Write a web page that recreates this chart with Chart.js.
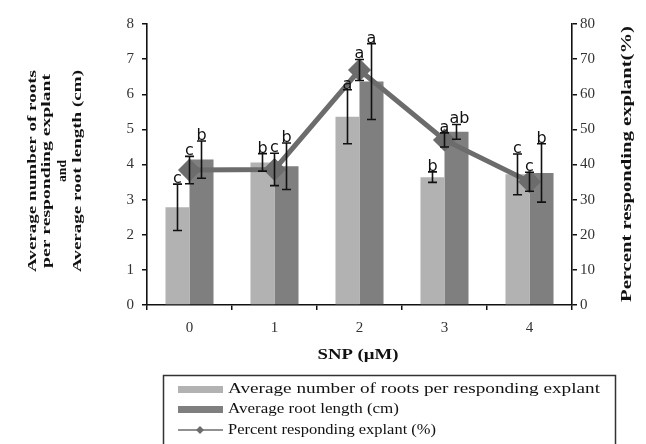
<!DOCTYPE html>
<html>
<head>
<meta charset="utf-8">
<script src="https://cdn.jsdelivr.net/npm/chart.js@4.4.1/dist/chart.umd.min.js"></script>
<style>
html,body{margin:0;padding:0;background:#fff;}
#wrap{width:646px;height:444px;position:relative;}
</style>
</head>
<body>
<div id="wrap"><canvas id="c" width="646" height="444"></canvas></div>
<script>
const categories = ['0', '1', '2', '3', '4'];
const rootsNumber = [2.78, 4.06, 5.36, 3.64, 3.72];
const rootsNumberErr = [0.66, 0.25, 0.77, 0.15, 0.58];
const rootLength = [4.14, 3.95, 6.36, 4.93, 3.76];
const rootLengthErr = [0.53, 0.66, 1.08, 0.21, 0.83];
const percentResponding = [38.4, 38.6, 66.9, 47.0, 35.1];
const percentRespondingErr = [3.9, 4.6, 3.0, 2.0, 2.7];
const rootsLetters = ['c', 'b', 'a', 'b', 'c'];
const lengthLetters = ['b', 'b', 'a', 'ab', 'b'];
const percentLetters = ['c', 'c', 'a', 'a', 'c'];
const leftTicks = [0, 1, 2, 3, 4, 5, 6, 7, 8];
const rightTicks = [0, 10, 20, 30, 40, 50, 60, 70, 80];
const seriesNames = ['Average number of roots per responding explant', 'Average root length (cm)', 'Percent responding explant (%)'];
const leftTitle = ['Average number of roots', 'per responding explant', 'and', 'Average root length (cm)'];
const rightTitle = 'Percent responding explant(%)';
const xTitle = 'SNP (\u00b5M)';

const LIGHT = '#b2b2b2', DARK = '#7f7f7f', LINE = '#6c6c6c';
const SERIF = '"Liberation Serif", "Times New Roman", serif';

function fitText(ctx, text, x, y, width, align) {
  const w = ctx.measureText(text).width;
  const s = width / w;
  ctx.save();
  ctx.translate(x, y);
  ctx.scale(s, 1);
  ctx.textAlign = align || 'center';
  ctx.fillText(text, 0, 0);
  ctx.restore();
}

const extras = {
  id: 'extras',
  afterDatasetsDraw(chart) {
    const ctx = chart.ctx;
    const yL = chart.scales.y, yR = chart.scales.y1;
    const m0 = chart.getDatasetMeta(0), m1 = chart.getDatasetMeta(1), m2 = chart.getDatasetMeta(2);
    ctx.save();
    ctx.strokeStyle = '#111';
    ctx.lineWidth = 1.6;
    function eb(x, v, e, sc) {
      const t = sc.getPixelForValue(v + e), b = sc.getPixelForValue(v - e);
      ctx.beginPath();
      ctx.moveTo(x, t); ctx.lineTo(x, b);
      ctx.moveTo(x - 4.5, t); ctx.lineTo(x + 4.5, t);
      ctx.moveTo(x - 4.5, b); ctx.lineTo(x + 4.5, b);
      ctx.stroke();
      return t;
    }
    ctx.fillStyle = '#111';
    ctx.font = '16px "DejaVu Sans", sans-serif';
    ctx.textAlign = 'center';
    ctx.textBaseline = 'alphabetic';
    for (let i = 0; i < categories.length; i++) {
      const x0 = m0.data[i].x, x1 = m1.data[i].x, x2 = m2.data[i].x;
      let t = eb(x0, rootsNumber[i], rootsNumberErr[i], yL);
      ctx.fillText(rootsLetters[i], x0, t - 1);
      t = eb(x1, rootLength[i], rootLengthErr[i], yL);
      ctx.fillText(lengthLetters[i], x1 + (lengthLetters[i].length > 1 ? 3 : 0), t - 1);
      t = eb(x2, percentResponding[i], percentRespondingErr[i], yR);
      ctx.fillText(percentLetters[i], x2, t - 1);
    }
    ctx.restore();
  },
  afterDraw(chart) {
    const ctx = chart.ctx;
    ctx.save();
    ctx.fillStyle = '#111';
    ctx.textBaseline = 'middle';
    // left title (rotated)
    ctx.font = 'bold 13px ' + SERIF;
    const lx = [33, 47, 63, 78];
    const lw = [202, 194, 22, 202];
    leftTitle.forEach((t, k) => {
      ctx.save();
      ctx.translate(lx[k], 171);
      ctx.rotate(-Math.PI / 2);
      fitText(ctx, t, 0, 0, lw[k]);
      ctx.restore();
    });
    // right title
    ctx.save();
    ctx.translate(627, 164);
    ctx.rotate(-Math.PI / 2);
    ctx.font = 'bold 14px ' + SERIF;
    fitText(ctx, rightTitle, 0, 0, 276);
    ctx.restore();
    // x title
    ctx.font = 'bold 15px ' + SERIF;
    fitText(ctx, xTitle, 358, 355, 81);
    // legend
    ctx.strokeStyle = '#333';
    ctx.lineWidth = 1.5;
    ctx.strokeRect(163.5, 375.5, 452, 80);
    ctx.fillStyle = LIGHT;
    ctx.fillRect(178, 386, 45, 7);
    ctx.fillStyle = DARK;
    ctx.fillRect(178, 406, 45, 7);
    ctx.strokeStyle = LINE;
    ctx.lineWidth = 1.5;
    ctx.beginPath(); ctx.moveTo(178, 430); ctx.lineTo(223, 430); ctx.stroke();
    ctx.fillStyle = LINE;
    ctx.beginPath();
    ctx.moveTo(200, 426); ctx.lineTo(204, 430); ctx.lineTo(200, 434); ctx.lineTo(196, 430); ctx.closePath(); ctx.fill();
    ctx.fillStyle = '#111';
    ctx.font = '15px ' + SERIF;
    fitText(ctx, seriesNames[0], 228, 389, 372, 'left');
    fitText(ctx, seriesNames[1], 228, 409, 171, 'left');
    fitText(ctx, seriesNames[2], 228, 430, 208, 'left');
    ctx.restore();
  }
};

const tickFont = { family: SERIF, size: 15 };
new Chart(document.getElementById('c'), {
  type: 'bar',
  data: {
    labels: categories,
    datasets: [
      { label: seriesNames[0], data: rootsNumber, backgroundColor: LIGHT, yAxisID: 'y', order: 2,
        barPercentage: 1, categoryPercentage: 0.565 },
      { label: seriesNames[1], data: rootLength, backgroundColor: DARK, yAxisID: 'y', order: 2,
        barPercentage: 1, categoryPercentage: 0.565 },
      { label: seriesNames[2], data: percentResponding, type: 'line', yAxisID: 'y1', order: 0,
        borderColor: LINE, borderWidth: 5, backgroundColor: LINE, pointStyle: 'rectRot',
        pointRadius: 8, pointBackgroundColor: LINE, pointBorderColor: LINE, tension: 0, fill: false }
    ]
  },
  options: {
    responsive: false,
    animation: false,
    events: [],
    layout: { padding: { top: 24, left: 0, right: 0, bottom: 0 } },
    plugins: { legend: { display: false }, tooltip: { enabled: false } },
    scales: {
      x: {
        offset: true,
        grid: { display: true, drawOnChartArea: false, drawTicks: true, tickLength: 5, color: '#111', lineWidth: 1.5, offset: true },
        border: { display: true, color: '#111', width: 1.6 },
        ticks: { font: tickFont, color: '#333', padding: 9 },
        afterFit(s) { s.height = 139; }
      },
      y: {
        position: 'left', min: 0, max: 8,
        afterBuildTicks(s) { s.ticks = leftTicks.map(v => ({ value: v })); },
        grid: { display: true, drawOnChartArea: false, drawTicks: true, tickLength: 5, color: '#111', lineWidth: 1.5 },
        border: { display: true, color: '#111', width: 1.6 },
        ticks: { font: tickFont, color: '#333', padding: 8 },
        afterFit(s) { s.width = 147; }
      },
      y1: {
        position: 'right', min: 0, max: 80,
        afterBuildTicks(s) { s.ticks = rightTicks.map(v => ({ value: v })); },
        grid: { display: true, drawOnChartArea: false, drawTicks: true, tickLength: 5, color: '#111', lineWidth: 1.5 },
        border: { display: true, color: '#111', width: 1.6 },
        ticks: { font: tickFont, color: '#333', padding: 3 },
        afterFit(s) { s.width = 74; }
      }
    }
  },
  plugins: [extras]
});
</script>
</body>
</html>
